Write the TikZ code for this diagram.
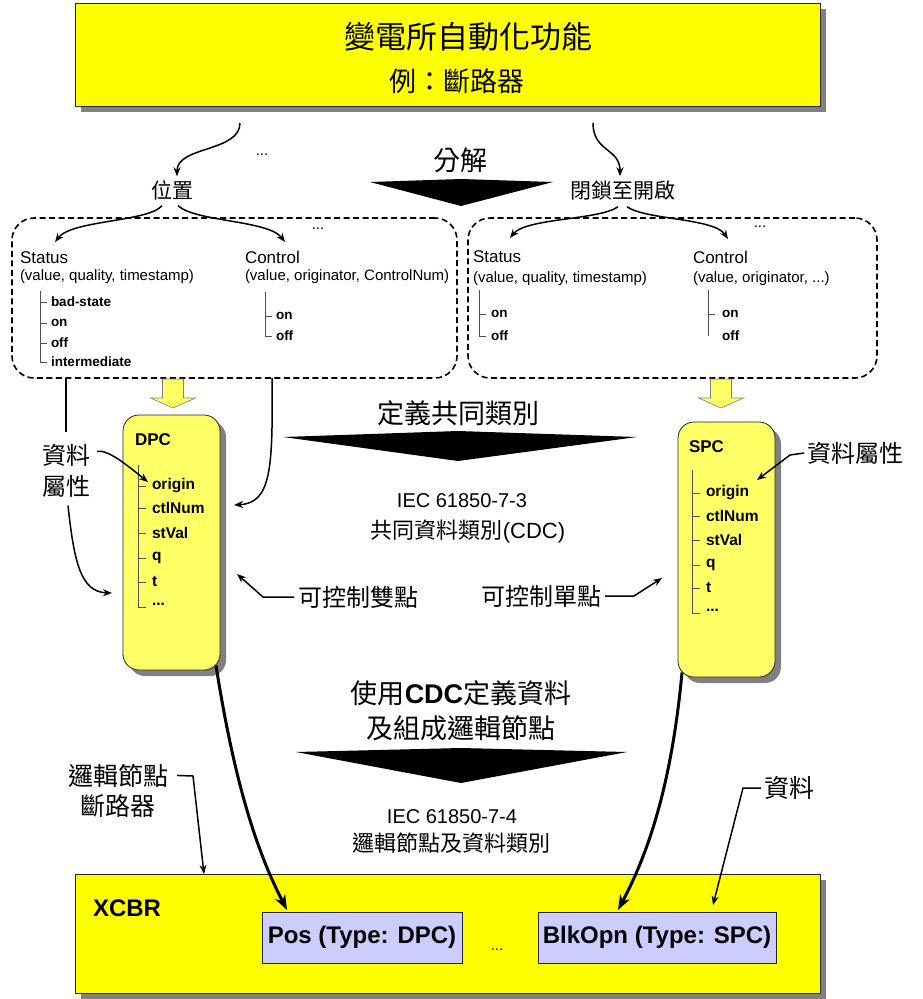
\documentclass[tikz,border=0pt]{standalone}
\usepackage{fontspec}
\setmainfont{Liberation Sans}
\newfontfamily\cjk{Noto Sans CJK TC}
\usetikzlibrary{arrows.meta,shadows,calc}
\newcommand\myfs[1]{\fontsize{#1}{#1}\selectfont}
\definecolor{ybright}{HTML}{FFFF00}
\definecolor{ylight}{HTML}{FFFF66}
\definecolor{lav}{HTML}{CCCCFF}
\definecolor{shadowgray}{HTML}{808080}
\definecolor{treegray}{HTML}{505050}
\begin{document}
\begin{tikzpicture}[x=1pt,y=-1pt,
  box/.style={draw=black!85, line width=0.8pt, inner sep=0pt, outer sep=0pt, anchor=north west},
  shadowed/.style={drop shadow={shadow xshift=6pt,shadow yshift=-6pt,fill=shadowgray,opacity=1}},
  lbl/.style={inner sep=0pt, outer sep=0pt},
  zh/.style={lbl, font=\cjk\myfs{#1}},
  arr/.style={-{Stealth[length=9pt,width=7pt]}, line width=1.5pt},
  conn/.style={line width=1.5pt},
  bigarr/.style={-{Stealth[length=15pt,width=11pt]}, line width=3pt},
  tree/.style={draw=treegray, line width=1pt},
  dbox/.style={draw, dash pattern=on 6pt off 3.5pt, line width=1.6pt, rounded corners=22pt, inner sep=0pt, outer sep=0pt, anchor=north west},
  head/.style={lbl, anchor=west, font=\myfs{17}},
  sub/.style={lbl, anchor=west, font=\myfs{15}},
  item/.style={lbl, anchor=west, font=\bfseries\myfs{13.5}},
  ditem/.style={lbl, anchor=west, font=\bfseries\myfs{15.5}},
  blockarr/.style={fill=ylight, draw=gray, line width=0.6pt},
  tri/.style={fill=black}
]
\useasboundingbox (0,0) rectangle (922,999);

% ---------- top box ----------
\node[box, fill=ybright, shadowed, minimum width=745pt, minimum height=103pt] (top) at (75,3) {};
\node[zh=31] (title) at (468,37) {變電所自動化功能};
\node[zh=27] (ex) at (457,81) {例：斷路器};

\node[lbl, font=\myfs{15}] (dots1) at (262,155) {...};
\node[zh=27] (fj) at (460,160) {分解};
\fill[tri] (370,182) -- (461,179) -- (553,182) -- (461,206) -- cycle;

\node[zh=21] (wz) at (172,190) {位置};
\node[zh=21] (bs) at (623,190) {閉鎖至開啟};

\coordinate (s1) at (240,123);
\coordinate (s2) at (593,123);
\draw[arr] (s1) .. controls (240,152) and (177,146) .. ([xshift=5pt,yshift=4pt]wz.north);
\draw[arr] (s2) .. controls (593,152) and (620,148) .. ([xshift=-3pt,yshift=4pt]bs.north);

% ---------- dashed boxes ----------
\node[dbox, minimum width=445pt, minimum height=160pt] (lbox) at (12,218) {};
\node[dbox, minimum width=409pt, minimum height=160pt] (rbox) at (468,218) {};

\node[head] (stL) at (20,258) {Status};
\node[sub] (stLs) at (20,277) {(value, quality, timestamp)};
\node[head] (ctL) at (245,257) {Control};
\node[sub] (ctLs) at (245,277) {(value, originator, ControlNum)};
\node[lbl, font=\myfs{15}] (dots2) at (318,229) {...};

\coordinate (tStL) at (55,242);
\coordinate (tCtL) at (285,242);
\draw[arr] ([xshift=-10pt,yshift=-6pt]wz.south) .. controls (148,222) and (72,220) .. (tStL);
\draw[arr] ([xshift=6pt,yshift=-6pt]wz.south) .. controls (196,222) and (268,220) .. (tCtL);

\draw[tree] (40,291) -- (40,362) -- (47,362);
\foreach \yy in {302,323,343} \draw[tree] (40,\yy) -- (47,\yy);
\node[item] (i1) at (51,302) {bad-state};
\node[item] (i2) at (51,323) {on};
\node[item] (i3) at (51,343) {off};
\node[item] (i4) at (51,362) {intermediate};

\draw[tree] (265,292) -- (265,336) -- (272,336);
\draw[tree] (265,316) -- (272,316);
\node[item] (i5) at (276,316) {on};
\node[item] (i6) at (276,336) {off};

\node[head] (stR) at (473,257) {Status};
\node[sub] (stRs) at (473,279) {(value, quality, timestamp)};
\node[head] (ctR) at (693,257) {Control};
\node[sub] (ctRs) at (693,279) {(value, originator, ...)};
\node[lbl, font=\myfs{15}] (dots3) at (760,227) {...};

\coordinate (tStR) at (510,238);
\coordinate (tCtR) at (728,239);
\draw[arr] ([xshift=-5pt,yshift=-7pt]bs.south) .. controls (600,220) and (526,218) .. (tStR);
\draw[arr] ([xshift=4pt,yshift=-7pt]bs.south) .. controls (646,220) and (714,218) .. (tCtR);

\draw[tree] (479,290) -- (479,336) -- (486,336);
\draw[tree] (479,314) -- (486,314);
\node[item] (i7) at (491,314) {on};
\node[item] (i8) at (491,336) {off};

\draw[tree] (708,290) -- (708,336);
\draw[tree] (708,314) -- (715,314);
\node[item] (i9) at (722,314) {on};
\node[item] (i10) at (722,336) {off};

% ---------- yellow block arrows ----------
\foreach \cx in {173,721}
  \path[blockarr] (\cx-10.5,379) -- (\cx+10.5,379) -- (\cx+10.5,398) -- (\cx+22.5,398)
     -- (\cx,408) -- (\cx-22.5,398) -- (\cx-10.5,398) -- cycle;

% ---------- DPC / SPC ----------
\node[box, rounded corners=16pt, fill=ylight, shadowed, minimum width=97pt, minimum height=255pt] (dpc) at (123,415) {};
\node[box, rounded corners=16pt, fill=ylight, shadowed, minimum width=97pt, minimum height=255pt] (spc) at (678,422) {};

\node[lbl, anchor=west, font=\bfseries\myfs{17}] (dpcT) at (135,440) {DPC};
\draw[tree] (138,465) -- (138,608);
\foreach \yy in {486,508,533,558,582,607} \draw[tree] (138,\yy) -- (146,\yy);
\node[ditem] (d1) at (152,486) {origin};
\node[ditem] (d2) at (152,508) {ctlNum};
\node[ditem] (d3) at (152,533) {stVal};
\node[ditem] (d4) at (152,558) {q};
\node[ditem] (d5) at (152,582) {t};
\node[ditem] (d6) at (152,604) {...};

\node[lbl, anchor=west, font=\bfseries\myfs{17}] (spcT) at (689,447) {SPC};
\draw[tree] (692,470) -- (692,613);
\foreach \yy in {493,516,540,565,588,613} \draw[tree] (692,\yy) -- (700,\yy);
\node[ditem] (e1) at (706,493) {origin};
\node[ditem] (e2) at (706,516) {ctlNum};
\node[ditem] (e3) at (706,540) {stVal};
\node[ditem] (e4) at (706,565) {q};
\node[ditem] (e5) at (706,588) {t};
\node[ditem] (e6) at (706,610) {...};

% ---------- middle ----------
\node[zh=27] (dy) at (458,413) {定義共同類別};
\fill[tri] (283,437) -- (458,431) -- (637,437) -- (458,461) -- cycle;
\node[lbl, font=\myfs{20}] (iec3) at (462,501) {IEC 61850-7-3};
\node[lbl, font=\myfs{22}] (cdc) at (468,531) {{\cjk 共同資料類別}(CDC)};

\node[zh=24, align=center] (attrL) at (66,471) {資料\\[7pt]屬性};
\draw[conn] (lbox.south -| attrL.north) -- ([yshift=12pt]attrL.north);
\coordinate (tOrig) at (148,482);
\draw[arr] ($(attrL.north east)+(7,7)$) .. controls (108,449) and (128,466) .. (tOrig);
\coordinate (tDpcL) at (112,593);
\draw[arr] ([xshift=2pt,yshift=-8pt]attrL.south) .. controls (74,560) and (80,592) .. (tDpcL);

\coordinate (tCtl) at (234,505);
\draw[arr] (lbox.south -| 272,0) .. controls (273,470) and (271,503) .. (tCtl);

\node[zh=24] (attrR) at (855,453) {資料屬性};
\coordinate (tOrigR) at (757,480);
\draw[arr] ([xshift=-3pt]attrR.west) -- (790,455) -- (tOrigR);

\node[zh=24] (kd) at (358,597) {可控制雙點};
\coordinate (tDpcR) at (237,574);
\draw[arr] ([xshift=-4pt]kd.west) -- (263,597) -- (tDpcR);

\node[zh=24] (ks) at (541,596) {可控制單點};
\coordinate (tSpcL) at (662,578);
\draw[arr] ([xshift=4pt]ks.east) -- (634,596) -- (tSpcL);

% ---------- lower ----------
\node[lbl, font=\myfs{27}] (use1) at (461,693) {{\cjk 使用}\textbf{CDC}{\cjk 定義資料}};
\node[zh=27] (use2) at (461,728) {及組成邏輯節點};
\fill[tri] (296,752) -- (461,748) -- (627,752) -- (461,783) -- cycle;
\node[lbl, font=\myfs{20}] (iec4) at (452,817) {IEC 61850-7-4};
\node[zh=22] (lncls) at (451,843) {邏輯節點及資料類別};

% ---------- XCBR ----------
\node[box, fill=ybright, shadowed, minimum width=745pt, minimum height=119pt] (xcbr) at (75,874) {};
\node[lbl, anchor=west, font=\bfseries\myfs{24}] (xcbrT) at (93,908) {XCBR};
\node[box, fill=lav, minimum width=200pt, minimum height=51pt, font=\bfseries\myfs{24}] (pos) at (262,912) {Pos (Type: DPC)};
\node[box, fill=lav, minimum width=238pt, minimum height=51pt, font=\bfseries\myfs{24}] (blk) at (538,912) {BlkOpn (Type: SPC)};
\node[lbl, font=\myfs{15}] (dots4) at (497,950) {...};

\draw[bigarr] ([xshift=-4pt,yshift=4.5pt]dpc.south east) .. controls (234,780) and (256,850) .. ([xshift=25pt,yshift=2pt]pos.north west);
\draw[bigarr] ([xshift=4pt,yshift=4.5pt]spc.south west) .. controls (672,780) and (650,850) .. ([xshift=80pt,yshift=2pt]blk.north west);

\node[zh=25, align=center] (lnL) at (118,791) {邏輯節點\\[5pt]斷路器};
\draw[arr] ($(lnL.north east)+(9,11)$) -- (193,776) -- ([xshift=129pt]xcbr.north west);

\node[zh=25] (dataR) at (789,788) {資料};
\coordinate (tData) at (713,905);
\draw[arr] ([xshift=-3pt]dataR.west) -- (743,788) -- (tData);

\end{tikzpicture}
\end{document}
